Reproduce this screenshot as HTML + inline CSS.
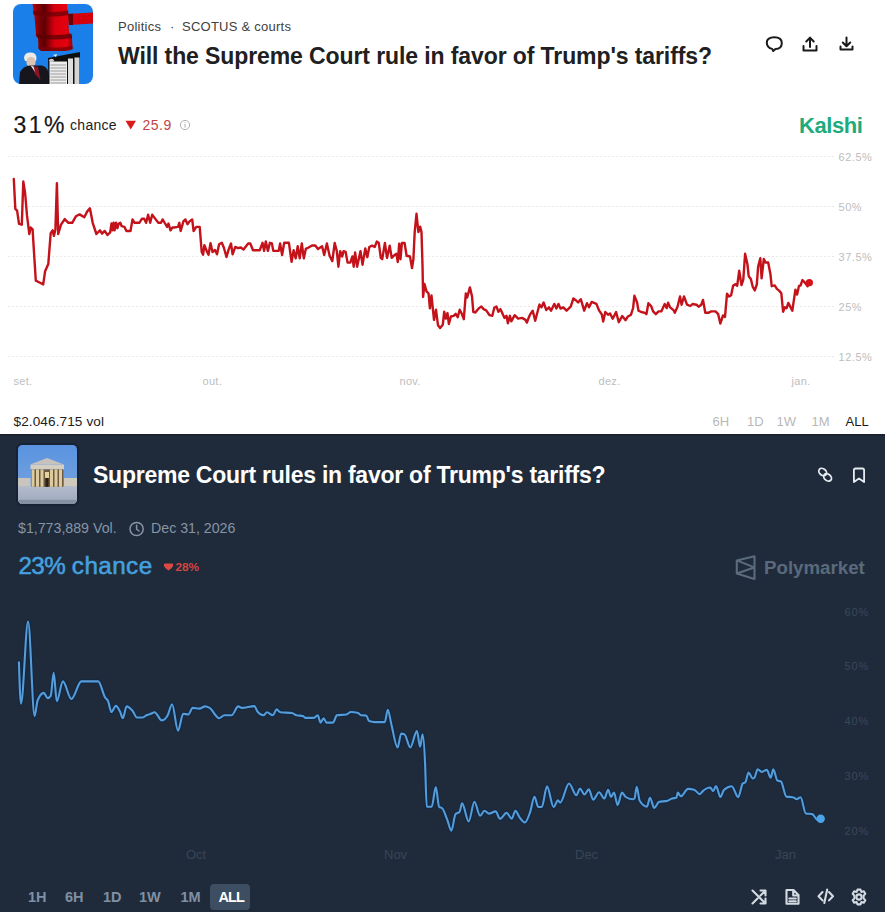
<!DOCTYPE html>
<html><head><meta charset="utf-8">
<style>
*{margin:0;padding:0;box-sizing:border-box}
html,body{width:885px;height:912px;overflow:hidden;background:#fff;font-family:"Liberation Sans",sans-serif}
.a{position:absolute;white-space:nowrap;line-height:1}
#top{position:absolute;left:0;top:0;width:885px;height:434px;background:#fff;overflow:hidden}
#bot{position:absolute;left:0;top:434px;width:885px;height:478px;background:#1f2b3b;overflow:hidden}
.gl{position:absolute;left:8px;width:828px;height:1px;background:repeating-linear-gradient(90deg,#e9e9e9 0 2px,transparent 2px 4px)}
.yl{position:absolute;left:838.5px;font-size:11px;color:#bdbdbd;letter-spacing:0.55px;line-height:1}
.xl{position:absolute;font-size:11px;color:#bdbdbd;line-height:1;letter-spacing:0.3px}
.rb{position:absolute;font-size:13px;color:#b8b8b8;line-height:1}
.pyl{position:absolute;left:844.5px;font-size:11px;color:#3a4758;line-height:1;letter-spacing:0.9px}
.pxl{position:absolute;font-size:13px;color:#384556;line-height:1}
.pb{position:absolute;font-size:14.5px;font-weight:bold;color:#8090a4;line-height:1}
</style></head><body>
<div id="top">
  <!-- thumbnail 1 -->
  <svg class="a" style="left:13px;top:4px" width="80" height="80" viewBox="0 0 80 80">
    <defs><clipPath id="c1"><rect width="80" height="80" rx="8"/></clipPath>
    <linearGradient id="gv" x1="0" x2="1"><stop offset="0" stop-color="#d0000c"/><stop offset="0.12" stop-color="#8a0006"/><stop offset="0.3" stop-color="#5c0004"/><stop offset="0.55" stop-color="#d8000e"/><stop offset="0.85" stop-color="#e4000e"/><stop offset="1" stop-color="#a0000a"/></linearGradient></defs>
    <g clip-path="url(#c1)">
      <rect width="80" height="80" fill="#1a7fe8"/>
      <path d="M54,10 L80,8.5 L80,19.5 L56,21 Z" fill="#d4000c"/>
      <path d="M55,10 L60,9.8 L60,21 L56,21 Z" fill="#6a0005"/>
      <path d="M19.5,0 H54 L54.5,6 Q56,8 55,11 L56,29 Q60,31 59,34 L59.6,45 Q55,47.5 44,47 H30 Q26,46.5 25.5,44 L25,34 Q22,32 23,29.5 L21.4,11.5 Q19,9 20.5,6 Z" fill="url(#gv)"/>
      <path d="M20.5,6.5 Q38,9.5 55,6.5 L55.5,11 Q38,14 21,11 Z" fill="#6a0005" opacity="0.75"/>
      <path d="M23,29.5 Q40,33 58.5,29.5 L59,34 Q40,37 25,34 Z" fill="#5a0004" opacity="0.75"/>
      <path d="M25.5,42 Q42,45 59.5,42 L59.6,45 Q55,47.5 44,47 H30 Q26,46.5 25.5,44 Z" fill="#7a0006" opacity="0.8"/>
      <!-- person -->
      <path d="M11,54 Q11,48.4 17.5,48.4 Q23.5,48.4 23.5,54 L23,57 L12,57 Z" fill="#ecebe8"/>
      <ellipse cx="18" cy="58" rx="4.6" ry="5.2" fill="#dcc4b4"/>
      <path d="M6,80 L7,68 Q11,61.5 17,61.5 L29,61.5 Q35.5,63 36,72 L36,80 Z" fill="#17161c"/>
      <path d="M19.5,62.5 L25,62.5 L27.5,76 L22,70 Z" fill="#8c1426"/>
      <path d="M17.5,61.5 L20.5,62.5 L22,68 Z" fill="#e8e8e8"/>
      <!-- document -->
      <path d="M35,54 L67,48 L67,80 L35.5,80 Z" fill="#0f0f10"/>
      <rect x="36.5" y="57.5" width="17.5" height="22.5" fill="#ececec"/>
      <rect x="55" y="54.5" width="5" height="25.5" fill="#dedede"/>
      <rect x="61.5" y="53.5" width="5" height="26.5" fill="#d4d4d4"/>
      <g stroke="#8a8a8a" stroke-width="0.8"><line x1="37.5" y1="61" x2="53" y2="61"/><line x1="37.5" y1="64" x2="53" y2="64"/><line x1="37.5" y1="67" x2="53" y2="67"/><line x1="37.5" y1="70" x2="53" y2="70"/><line x1="37.5" y1="73" x2="53" y2="73"/><line x1="37.5" y1="76" x2="53" y2="76"/><line x1="37.5" y1="79" x2="53" y2="79"/></g>
      <ellipse cx="38.5" cy="56.5" rx="2.5" ry="1.8" fill="#c8c8c8"/>
      <path d="M40,51 L44,50 L43,53 Z" fill="#d8e8f4"/>
    </g>
  </svg>
  <div class="a" style="left:118px;top:20px;font-size:13px;color:#404040;letter-spacing:0.25px">Politics</div>
  <div class="a" style="left:170px;top:20px;font-size:13px;color:#404040">·</div>
  <div class="a" style="left:182px;top:20px;font-size:13px;color:#404040;letter-spacing:0.25px">SCOTUS &amp; courts</div>
  <div class="a" style="left:118px;top:45.3px;font-size:23px;font-weight:bold;color:#202020;letter-spacing:-0.1px">Will the Supreme Court rule in favor of Trump's tariffs?</div>
  <!-- header icons -->
  <svg class="a" style="left:760px;top:30px" width="100" height="28" viewBox="760 30 100 28" fill="none" stroke="#1a1a1a" stroke-width="2" stroke-linecap="round" stroke-linejoin="round">
    <path d="M772.2,48.9 Q766.8,47.6 766.8,42.7 Q766.8,37.2 774.3,37.2 Q781.8,37.2 781.8,42.9 Q781.8,48.7 775.5,49 L773.2,51 Z"/>
    <path d="M810,47 V38 M806.3,41.5 L810,37.6 L813.7,41.5 M803.5,46 V50.5 H816.5 V46"/>
    <path d="M846.5,37.5 V46 M842.8,42.5 L846.5,46.3 L850.2,42.5 M840.5,46.5 V49.6 H852.5 V46.5"/>
  </svg>
  <div class="a" style="left:13.5px;top:113.6px;font-size:23px;color:#161616;letter-spacing:2.4px;-webkit-text-stroke:0.2px #161616">31%</div>
  <div class="a" style="left:70px;top:118px;font-size:14px;color:#1c1c1c;letter-spacing:0.3px">chance</div>
  <svg class="a" style="left:125px;top:120px" width="12" height="10"><polygon points="0.5,0.8 11,0.8 5.75,9.5" fill="#d81c1c"/></svg>
  <div class="a" style="left:142.5px;top:118.3px;font-size:14px;color:#bf4545;letter-spacing:0.5px">25.9</div>
  <svg class="a" style="left:179px;top:119px" width="12" height="12" viewBox="0 0 12 12"><circle cx="6" cy="6" r="4.6" fill="none" stroke="#a8a8a8" stroke-width="0.9"/><rect x="5.55" y="5" width="0.9" height="3.6" fill="#a8a8a8"/><rect x="5.55" y="3.2" width="0.9" height="0.9" fill="#a8a8a8"/></svg>
  <div class="a" style="left:799px;top:114.5px;font-size:22px;font-weight:bold;color:#1eab7d;letter-spacing:-0.45px">Kalshi</div>
  <!-- grid -->
  <div class="gl" style="top:156px"></div>
  <div class="gl" style="top:206px"></div>
  <div class="gl" style="top:256px"></div>
  <div class="gl" style="top:306px"></div>
  <div class="gl" style="top:356px"></div>
  <div class="yl" style="top:152px">62.5%</div>
  <div class="yl" style="top:202px">50%</div>
  <div class="yl" style="top:252px">37.5%</div>
  <div class="yl" style="top:302px">25%</div>
  <div class="yl" style="top:352px">12.5%</div>
  <div class="xl" style="left:13.5px;top:376px">set.</div>
  <div class="xl" style="left:202.5px;top:376px">out.</div>
  <div class="xl" style="left:399.5px;top:376px">nov.</div>
  <div class="xl" style="left:598.5px;top:376px">dez.</div>
  <div class="xl" style="left:791.5px;top:376px">jan.</div>
  <svg class="a" style="left:0;top:0" width="885" height="434" viewBox="0 0 885 434">
    <path d="M13.8,179.0 L15.3,208.8 L17.1,210.7 L19.0,223.8 L21.8,224.7 L23.3,181.4 L25.1,193.0 L27.0,215.4 L29.3,234.0 L30.7,227.5 L32.6,229.4 L33.9,250.8 L35.8,280.7 L39.5,282.5 L43.2,284.4 L45.1,271.3 L48.3,263.9 L50.7,233.1 L52.6,230.3 L53.9,235.9 L55.4,229.4 L56.9,183.3 L58.2,234.0 L61.0,224.7 L64.7,219.1 L68.4,222.8 L72.2,222.8 L75.9,216.3 L79.6,214.4 L84.3,217.2 L87.1,211.6 L89.9,208.3 L92.7,222.8 L96.4,234.0 L100.0,230.3 L102.0,233.6 L104.7,230.9 L107.5,235.0 L110.2,232.3 L111.5,223.5 L112.5,230.3 L113.6,222.8 L114.6,230.3 L116.0,222.8 L117.4,228.2 L118.7,223.5 L120.3,222.8 L121.7,226.2 L124.4,226.9 L126.4,231.0 L130.5,231.0 L132.5,219.4 L134.6,222.8 L139.3,222.8 L142.0,218.7 L144.1,218.7 L146.1,222.8 L148.1,214.7 L150.2,222.8 L152.2,214.7 L154.2,217.4 L158.3,222.8 L161.0,222.8 L162.6,219.4 L165.1,223.5 L167.1,226.9 L168.5,223.5 L170.5,230.3 L172.5,227.5 L173.9,227.5 L178.0,226.9 L179.3,222.8 L180.7,231.0 L183.4,221.4 L185.4,219.4 L187.5,224.2 L189.5,221.4 L192.2,219.4 L193.6,231.0 L196.3,226.9 L199.7,226.9 L201.7,252.0 L203.1,254.7 L204.4,245.2 L207.1,252.0 L208.5,254.7 L210.5,243.1 L212.5,252.0 L215.0,250.0 L217.0,254.3 L219.1,244.2 L221.8,242.8 L223.8,247.5 L226.5,257.0 L228.6,249.6 L231.0,243.5 L232.6,254.3 L235.3,246.9 L238.0,248.2 L240.8,247.5 L243.5,249.6 L248.2,243.5 L250.3,243.5 L253.0,250.3 L259.7,250.3 L262.5,242.8 L264.1,250.9 L265.8,241.4 L267.9,250.9 L269.9,242.8 L271.9,243.5 L273.3,250.9 L278.7,250.9 L280.1,243.5 L282.1,255.0 L284.2,242.8 L288.9,242.8 L291.6,261.8 L293.6,250.3 L295.7,258.4 L297.7,246.2 L299.7,258.4 L301.8,243.5 L303.8,258.4 L305.8,248.9 L308.6,247.5 L312.0,245.5 L315.3,245.5 L318.0,248.9 L322.1,246.2 L324.2,255.0 L326.9,243.5 L329.6,255.7 L332.3,261.1 L334.7,243.0 L336.8,251.1 L338.4,266.7 L340.2,251.1 L342.2,256.5 L343.6,251.1 L345.6,251.8 L347.6,262.6 L350.3,262.6 L352.4,256.5 L353.7,266.7 L355.1,252.5 L357.1,266.7 L360.5,251.1 L362.5,264.7 L365.3,248.4 L367.3,257.2 L369.3,247.0 L372.0,245.7 L374.7,247.0 L376.8,241.6 L378.8,243.0 L380.8,257.9 L382.2,259.2 L384.9,243.0 L387.0,257.9 L389.7,245.7 L391.7,257.9 L394.4,255.2 L396.4,253.8 L397.8,262.0 L399.2,243.6 L400.5,259.2 L401.9,243.0 L404.6,243.0 L406.6,255.8 L410.0,256.5 L412.0,268.0 L413.4,259.2 L414.7,232.1 L416.5,213.8 L418.4,232.1 L420.2,226.7 L421.5,232.1 L422.5,265.0 L423.1,296.9 L424.5,284.0 L426.5,291.4 L428.6,293.5 L429.9,308.4 L431.5,295.5 L434.0,319.9 L436.0,309.7 L438.0,325.3 L440.1,328.0 L442.8,324.7 L444.2,311.8 L445.9,318.6 L447.5,313.1 L448.9,324.0 L450.9,316.5 L453.6,315.8 L455.7,313.8 L457.7,317.2 L459.7,309.7 L461.8,313.8 L463.8,319.2 L465.8,293.5 L467.2,297.5 L469.9,287.4 L472.0,296.2 L473.3,311.8 L475.3,312.5 L478.7,308.4 L481.4,306.4 L483.5,309.1 L486.2,310.4 L489.6,315.2 L492.3,315.8 L494.3,307.7 L496.4,306.4 L498.4,311.8 L500.4,309.1 L504.5,317.9 L506.5,315.8 L507.9,323.3 L509.9,315.8 L511.3,321.3 L514.7,315.2 L518.1,318.6 L522.1,317.9 L525.5,319.9 L526.9,322.6 L528.9,317.2 L530.0,314.7 L532.7,310.7 L535.2,320.8 L537.5,312.0 L539.5,304.6 L541.5,307.3 L543.6,302.5 L546.3,310.0 L549.0,307.3 L551.0,310.7 L554.4,303.9 L556.4,308.6 L558.5,303.9 L560.5,308.6 L563.2,307.3 L566.6,310.7 L570.7,306.6 L573.4,298.5 L576.1,300.5 L578.1,302.5 L580.8,299.2 L584.2,310.7 L587.0,303.2 L589.0,307.3 L591.7,301.9 L596.4,303.9 L599.2,310.7 L601.9,314.7 L603.2,321.5 L605.3,312.0 L608.0,314.7 L610.0,313.4 L612.7,318.8 L616.1,312.0 L618.8,322.2 L622.2,316.1 L625.6,320.2 L627.6,316.8 L631.0,314.7 L633.1,308.0 L634.4,295.8 L637.1,302.5 L638.5,310.7 L641.2,312.0 L645.0,312.8 L646.4,314.2 L648.4,303.3 L651.1,306.0 L653.1,311.4 L655.8,314.2 L658.6,311.4 L661.3,311.4 L664.7,304.0 L666.7,308.1 L668.1,302.6 L670.1,307.4 L673.5,310.1 L674.8,312.8 L677.5,306.7 L680.0,296.5 L681.6,304.7 L684.0,296.5 L687.0,304.7 L690.4,306.0 L692.5,304.0 L696.5,304.7 L698.6,306.7 L701.3,304.7 L703.0,299.9 L705.3,312.8 L708.1,312.8 L711.4,311.4 L715.5,311.4 L718.2,314.2 L720.3,323.6 L723.0,315.5 L725.0,316.9 L727.0,293.8 L729.1,296.5 L731.1,295.2 L733.1,285.7 L735.2,284.3 L737.2,285.7 L739.2,270.8 L741.5,285.0 L743.3,279.6 L745.1,253.8 L747.4,264.0 L748.7,276.2 L750.8,278.9 L752.8,287.0 L754.8,290.4 L756.8,284.5 L758.1,266.9 L760.3,258.2 L761.6,278.3 L763.8,259.0 L765.5,262.5 L768.2,262.5 L770.4,273.9 L771.7,286.2 L774.7,285.4 L776.9,288.9 L779.1,290.6 L781.3,293.2 L783.1,311.7 L784.8,307.3 L786.6,308.2 L788.3,302.9 L790.1,306.4 L792.3,310.8 L795.4,289.7 L797.1,294.6 L798.9,286.2 L800.6,285.4 L802.4,280.1 L805.0,282.7 L807.6,286.2 L809.4,282.7" fill="none" stroke="#c4121b" stroke-width="2.4" stroke-linejoin="round" stroke-linecap="round"/>
    <circle cx="809.4" cy="282.7" r="3.6" fill="#d8121a"/>
  </svg>
  <div class="a" style="left:13.5px;top:415px;font-size:13.6px;color:#1c1c1c;letter-spacing:0.1px">$2.046.715 vol</div>
  <div class="rb" style="left:712.5px;top:415px">6H</div>
  <div class="rb" style="left:747px;top:415px">1D</div>
  <div class="rb" style="left:776.5px;top:415px">1W</div>
  <div class="rb" style="left:811.5px;top:415px">1M</div>
  <div class="rb" style="left:845.5px;top:415px;color:#1a1a1a">ALL</div>
</div>
<div id="bot">
  <div class="a" style="left:0;top:0;width:885px;height:2px;background:#19222e"></div>
  <!-- thumbnail 2 -->
  <div class="a" style="left:16px;top:9px;width:63px;height:63px;border-radius:6px;background:#172235"></div>
  <svg class="a" style="left:18px;top:11px" width="59" height="59" viewBox="0 0 59 59">
    <defs><clipPath id="c2"><rect width="59" height="59" rx="4.5"/></clipPath>
    <linearGradient id="sky" x1="0" y1="0" x2="0" y2="1"><stop offset="0" stop-color="#5a93e0"/><stop offset="1" stop-color="#7ba6dc"/></linearGradient>
    <linearGradient id="stp" x1="0" y1="0" x2="0" y2="1"><stop offset="0" stop-color="#b4bccb"/><stop offset="0.7" stop-color="#a3aec2"/><stop offset="1" stop-color="#7f8aa0"/></linearGradient></defs>
    <g clip-path="url(#c2)">
      <rect width="59" height="59" fill="url(#sky)"/>
      <rect x="0" y="33" width="12.5" height="11" fill="#c9c4bd"/>
      <rect x="46" y="33" width="13" height="11" fill="#cfc9bc"/>
      <rect x="0" y="41" width="59" height="18" fill="url(#stp)"/>
      <path d="M12.3,19.6 L29,12.9 L45.9,19.6 Z" fill="#c6c2c0"/>
      <rect x="12.5" y="19.6" width="33.5" height="4.8" fill="#d3cdc2"/>
      <rect x="13" y="24.4" width="32.4" height="17.4" fill="#6e5a3e"/>
      <g fill="#dccaa0"><rect x="13.5" y="24.4" width="3" height="17.4"/><rect x="18" y="24.4" width="3" height="17.4"/><rect x="22.5" y="24.4" width="3" height="17.4"/><rect x="32" y="24.4" width="3" height="17.4"/><rect x="36.5" y="24.4" width="3" height="17.4"/><rect x="41" y="24.4" width="3" height="17.4"/></g>
      <rect x="27" y="27" width="4" height="6" fill="#e8d49a"/>
      <rect x="27.5" y="33" width="3" height="8.8" fill="#2a2018"/>
      <rect x="0" y="55" width="59" height="4" fill="#8690a3"/>
    </g>
  </svg>
  <div class="a" style="left:93px;top:30px;font-size:23px;font-weight:bold;color:#fff;letter-spacing:-0.25px">Supreme Court rules in favor of Trump's tariffs?</div>
  <svg class="a" style="left:810px;top:28px" width="65" height="28" viewBox="810 462 65 28" fill="none" stroke="#e6ebf0" stroke-width="1.8" stroke-linecap="round" stroke-linejoin="round">
    <ellipse cx="822.7" cy="472" rx="4.3" ry="3.2" transform="rotate(40 822.7 472)"/>
    <ellipse cx="827.6" cy="477.4" rx="4.3" ry="3.2" transform="rotate(40 827.6 477.4)"/>
    <path d="M853.9,470.2 Q853.9,468.5 855.6,468.5 H862.4 Q864.1,468.5 864.1,470.2 V482 L859,478.4 L853.9,482 Z"/>
  </svg>
  <div class="a" style="left:18px;top:87.3px;font-size:14.2px;color:#8794a4">$1,773,889 Vol.</div>
  <svg class="a" style="left:128px;top:87px" width="18" height="18" viewBox="0 0 18 18" fill="none" stroke="#8794a4" stroke-width="1.5" stroke-linecap="round"><circle cx="8.6" cy="8" r="6.6"/><path d="M8.6,4.3 V8.2 L11,10"/></svg>
  <div class="a" style="left:151px;top:87.3px;font-size:14.2px;color:#8794a4">Dec 31, 2026</div>
  <div class="a" style="left:18.5px;top:120px;font-size:24.2px;color:#45a0df;-webkit-text-stroke:0.55px #45a0df"><span style="letter-spacing:-0.6px">23%</span> <span style="letter-spacing:0.45px">chance</span></div>
  <svg class="a" style="left:162.5px;top:129px" width="11" height="9"><path d="M0.8,2 Q0.8,0.6 2.2,0.6 H8.8 Q10.2,0.6 10.2,2 Q10,4.5 5.5,7.6 Q1,4.5 0.8,2 Z" fill="#dc4844"/></svg>
  <div class="a" style="left:175.5px;top:127.5px;font-size:11.8px;font-weight:bold;color:#d44440">28%</div>
  <!-- polymarket logo -->
  <svg class="a" style="left:735px;top:121px" width="22" height="26" viewBox="0 0 22 26" fill="none" stroke="#5b6b7d" stroke-width="2.1" stroke-linejoin="round"><path d="M1.8,5.4 L19.5,1.3 V24 L1.8,18.6 Z M1.8,5.4 L19.2,12.4 L1.8,18.6"/></svg>
  <div class="a" style="left:764px;top:125px;font-size:18.7px;font-weight:bold;color:#5a6a7c">Polymarket</div>
  <!-- grid labels -->
  <div class="pyl" style="top:173px">60%</div>
  <div class="pyl" style="top:227px">50%</div>
  <div class="pyl" style="top:282px">40%</div>
  <div class="pyl" style="top:337px">30%</div>
  <div class="pyl" style="top:392px">20%</div>
  <div class="pxl" style="left:186px;top:413.5px">Oct</div>
  <div class="pxl" style="left:384px;top:413.5px">Nov</div>
  <div class="pxl" style="left:575px;top:413.5px">Dec</div>
  <div class="pxl" style="left:775px;top:413.5px">Jan</div>
  <svg class="a" style="left:0;top:0" width="885" height="478" viewBox="0 434 885 478">
    <path d="M18.9,662.2 C19.6,682.9 20.3,703.6 21.0,703.6 C23.4,703.6 25.7,621.5 28.1,621.5 C30.3,621.5 32.4,715.9 34.6,715.9 C35.6,715.9 36.6,703.0 37.6,700.5 C39.7,695.4 41.7,692.9 43.8,692.9 C45.1,692.9 46.3,698.2 47.6,698.2 C48.6,698.2 49.7,697.4 50.7,695.9 C51.7,694.4 52.7,672.9 53.7,672.9 C54.7,672.9 55.8,701.3 56.8,701.3 C58.8,701.3 60.9,681.4 62.9,681.4 C65.7,681.4 68.6,699.0 71.4,699.0 C74.7,699.0 78.1,681.4 81.4,681.4 C87.0,681.4 92.6,681.4 98.2,681.4 C100.5,681.4 102.8,693.9 105.1,697.5 C106.1,699.1 107.2,698.9 108.2,701.3 C109.2,703.7 110.3,712.0 111.3,712.0 C112.8,712.0 114.4,705.9 115.9,705.9 C117.3,705.9 118.6,709.0 120.0,711.6 C121.0,713.4 121.9,718.2 122.9,718.2 C124.1,718.2 125.4,706.4 126.6,706.4 C128.6,706.4 130.5,708.5 132.5,710.8 C134.0,712.5 135.4,717.5 136.9,717.5 C138.9,717.5 140.8,717.5 142.8,717.5 C144.0,717.5 145.2,715.9 146.4,715.3 C147.9,714.6 149.3,714.4 150.8,713.8 C152.0,713.3 153.3,712.3 154.5,712.3 C157.0,712.3 159.4,720.4 161.9,720.4 C163.8,720.4 165.8,718.7 167.7,715.3 C169.2,712.7 170.6,704.2 172.1,704.2 C174.1,704.2 176.0,730.7 178.0,730.7 C179.7,730.7 181.5,713.8 183.2,713.8 C184.9,713.8 186.6,714.5 188.3,714.5 C189.8,714.5 191.2,707.9 192.7,707.9 C194.9,707.9 197.1,708.6 199.3,708.6 C201.3,708.6 203.2,706.4 205.2,706.4 C206.7,706.4 208.1,707.1 209.6,707.9 C212.8,709.7 215.9,718.2 219.1,718.2 C220.8,718.2 222.6,715.3 224.3,715.3 C226.7,715.3 229.2,715.3 231.6,715.3 C233.8,715.3 236.0,706.4 238.2,706.4 C239.4,706.4 240.7,707.9 241.9,707.9 C246.1,707.9 250.3,706.1 254.5,706.1 C255.5,706.1 256.5,710.3 257.5,711.6 C259.5,714.1 261.4,715.3 263.4,715.3 C264.6,715.3 265.8,712.3 267.0,712.3 C269.0,712.3 270.9,715.3 272.9,715.3 C274.1,715.3 275.4,709.4 276.6,709.4 C277.8,709.4 279.1,712.2 280.3,712.3 C284.2,712.8 288.1,712.5 292.0,713.0 C293.5,713.2 294.9,715.0 296.4,715.3 C298.6,715.8 300.8,715.5 303.0,716.0 C303.7,716.2 304.5,717.9 305.2,717.9 C308.1,717.9 311.1,717.9 314.0,717.9 C315.2,717.9 316.5,715.3 317.7,715.3 C318.7,715.3 319.6,722.6 320.6,722.6 C321.6,722.6 322.6,718.2 323.6,718.2 C324.6,718.2 325.5,722.6 326.5,722.6 C328.7,722.6 330.9,722.6 333.1,722.6 C334.3,722.6 335.6,715.5 336.8,715.3 C340.0,714.8 343.2,715.0 346.4,714.5 C347.9,714.3 349.3,712.0 350.8,712.0 C353.2,712.0 355.7,712.3 358.1,713.0 C359.1,713.3 360.0,715.2 361.0,715.3 C362.7,715.4 364.5,715.4 366.2,715.5 C367.2,715.6 368.1,720.8 369.1,721.1 C371.0,721.8 373.0,722.1 374.9,722.1 C378.2,722.1 381.5,722.1 384.8,722.1 C385.8,722.1 386.8,709.7 387.8,709.7 C389.0,709.7 390.2,719.7 391.4,724.5 C393.5,732.7 395.5,747.5 397.6,747.5 C398.8,747.5 400.0,733.6 401.2,733.6 C402.3,733.6 403.4,733.9 404.5,734.4 C406.4,735.3 408.4,747.5 410.3,747.5 C412.5,747.5 414.7,731.1 416.9,731.1 C418.0,731.1 419.0,746.7 420.1,746.7 C420.9,746.7 421.8,734.4 422.6,734.4 C423.4,734.4 424.3,746.6 425.1,764.0 C425.6,775.1 426.2,806.7 426.7,806.7 C428.4,806.7 430.0,806.7 431.7,806.7 C433.1,806.7 434.4,787.0 435.8,787.0 C436.9,787.0 438.0,805.5 439.1,806.7 C440.2,807.8 441.2,807.3 442.3,808.4 C444.0,810.2 445.6,815.8 447.3,819.9 C448.7,823.3 450.0,830.6 451.4,830.6 C452.8,830.6 454.1,815.7 455.5,814.1 C456.9,812.5 458.2,813.3 459.6,811.7 C460.4,810.7 461.3,803.4 462.1,803.4 C464.3,803.4 466.5,821.5 468.7,821.5 C470.6,821.5 472.5,801.8 474.4,801.8 C476.3,801.8 478.2,815.8 480.1,815.8 C481.6,815.8 483.0,810.7 484.5,810.7 C486.0,810.7 487.5,813.6 489.0,813.6 C491.2,813.6 493.4,811.4 495.6,811.4 C497.1,811.4 498.5,818.8 500.0,818.8 C502.2,818.8 504.4,812.9 506.6,812.9 C508.3,812.9 510.0,818.8 511.7,818.8 C512.9,818.8 514.2,810.7 515.4,810.7 C516.6,810.7 517.9,814.9 519.1,816.6 C521.1,819.3 523.0,822.4 525.0,822.4 C526.7,822.4 528.4,816.9 530.1,812.1 C531.6,808.0 533.0,796.7 534.5,796.7 C535.7,796.7 537.0,807.0 538.2,807.0 C539.4,807.0 540.6,807.0 541.8,807.0 C543.5,807.0 545.3,786.4 547.0,786.4 C549.2,786.4 551.4,807.0 553.6,807.0 C555.1,807.0 556.5,800.4 558.0,800.4 C558.7,800.4 559.5,802.6 560.2,802.6 C563.1,802.6 566.1,783.5 569.0,783.5 C571.5,783.5 573.9,795.3 576.4,795.3 C577.6,795.3 578.8,788.6 580.0,788.6 C581.5,788.6 582.9,794.5 584.4,794.5 C585.9,794.5 587.3,789.4 588.8,789.4 C590.3,789.4 591.7,799.7 593.2,799.7 C595.2,799.7 597.1,792.3 599.1,792.3 C600.9,792.3 602.6,798.5 604.4,798.5 C605.6,798.5 606.9,789.7 608.1,789.7 C609.1,789.7 610.0,797.0 611.0,797.0 C612.0,797.0 613.0,792.6 614.0,792.6 C615.2,792.6 616.4,805.1 617.6,805.1 C619.1,805.1 620.5,792.6 622.0,792.6 C623.2,792.6 624.5,796.2 625.7,797.0 C627.9,798.5 630.1,799.2 632.3,799.2 C633.0,799.2 633.8,799.0 634.5,798.5 C635.2,798.0 636.0,786.7 636.7,786.7 C637.7,786.7 638.7,799.1 639.7,800.7 C642.1,804.6 644.6,806.6 647.0,806.6 C648.0,806.6 648.9,797.7 649.9,797.7 C651.4,797.7 652.8,808.0 654.3,808.0 C655.8,808.0 657.3,802.6 658.8,802.1 C661.7,801.2 664.7,801.6 667.6,800.7 C669.1,800.2 670.5,799.0 672.0,798.5 C673.5,798.0 674.9,798.2 676.4,797.7 C676.9,797.5 677.3,792.6 677.8,792.6 C678.8,792.6 679.8,796.3 680.8,796.3 C683.2,796.3 685.7,788.9 688.1,788.9 C690.1,788.9 692.0,789.2 694.0,789.7 C696.0,790.2 697.9,794.1 699.9,794.1 C700.9,794.1 701.8,792.0 702.8,791.1 C705.3,788.9 707.7,787.5 710.2,787.5 C711.2,787.5 712.1,791.1 713.1,791.1 C714.1,791.1 715.0,786.0 716.0,786.0 C717.5,786.0 718.9,797.0 720.4,797.0 C721.6,797.0 722.7,791.3 723.9,790.1 C726.5,787.5 729.1,786.2 731.7,786.2 C733.9,786.2 736.0,797.2 738.2,797.2 C739.7,797.2 741.2,785.1 742.7,783.6 C743.6,782.7 744.4,783.2 745.3,782.3 C746.4,781.2 747.5,772.5 748.6,772.5 C749.9,772.5 751.2,778.4 752.5,778.4 C753.1,778.4 753.8,778.2 754.4,777.7 C755.5,776.9 756.6,769.3 757.7,769.3 C759.0,769.3 760.3,771.9 761.6,771.9 C763.3,771.9 765.1,769.9 766.8,769.9 C768.1,769.9 769.4,777.7 770.7,777.7 C771.6,777.7 772.4,769.3 773.3,769.3 C774.6,769.3 775.9,779.4 777.2,780.3 C778.5,781.2 779.8,780.7 781.1,781.6 C782.8,782.8 784.6,796.3 786.3,796.6 C788.5,797.0 790.6,796.8 792.8,797.2 C794.1,797.4 795.4,799.2 796.7,799.2 C798.0,799.2 799.3,797.2 800.6,797.2 C802.3,797.2 804.1,813.2 805.8,813.5 C808.0,813.9 810.1,813.7 812.3,814.1 C814.0,814.4 815.8,820.0 817.5,820.0 C818.6,820.0 819.6,819.4 820.7,818.7" fill="none" stroke="#0c2748" stroke-width="4.2" stroke-opacity="0.75" stroke-linejoin="round" stroke-linecap="round"/>
    <path d="M18.9,662.2 C19.6,682.9 20.3,703.6 21.0,703.6 C23.4,703.6 25.7,621.5 28.1,621.5 C30.3,621.5 32.4,715.9 34.6,715.9 C35.6,715.9 36.6,703.0 37.6,700.5 C39.7,695.4 41.7,692.9 43.8,692.9 C45.1,692.9 46.3,698.2 47.6,698.2 C48.6,698.2 49.7,697.4 50.7,695.9 C51.7,694.4 52.7,672.9 53.7,672.9 C54.7,672.9 55.8,701.3 56.8,701.3 C58.8,701.3 60.9,681.4 62.9,681.4 C65.7,681.4 68.6,699.0 71.4,699.0 C74.7,699.0 78.1,681.4 81.4,681.4 C87.0,681.4 92.6,681.4 98.2,681.4 C100.5,681.4 102.8,693.9 105.1,697.5 C106.1,699.1 107.2,698.9 108.2,701.3 C109.2,703.7 110.3,712.0 111.3,712.0 C112.8,712.0 114.4,705.9 115.9,705.9 C117.3,705.9 118.6,709.0 120.0,711.6 C121.0,713.4 121.9,718.2 122.9,718.2 C124.1,718.2 125.4,706.4 126.6,706.4 C128.6,706.4 130.5,708.5 132.5,710.8 C134.0,712.5 135.4,717.5 136.9,717.5 C138.9,717.5 140.8,717.5 142.8,717.5 C144.0,717.5 145.2,715.9 146.4,715.3 C147.9,714.6 149.3,714.4 150.8,713.8 C152.0,713.3 153.3,712.3 154.5,712.3 C157.0,712.3 159.4,720.4 161.9,720.4 C163.8,720.4 165.8,718.7 167.7,715.3 C169.2,712.7 170.6,704.2 172.1,704.2 C174.1,704.2 176.0,730.7 178.0,730.7 C179.7,730.7 181.5,713.8 183.2,713.8 C184.9,713.8 186.6,714.5 188.3,714.5 C189.8,714.5 191.2,707.9 192.7,707.9 C194.9,707.9 197.1,708.6 199.3,708.6 C201.3,708.6 203.2,706.4 205.2,706.4 C206.7,706.4 208.1,707.1 209.6,707.9 C212.8,709.7 215.9,718.2 219.1,718.2 C220.8,718.2 222.6,715.3 224.3,715.3 C226.7,715.3 229.2,715.3 231.6,715.3 C233.8,715.3 236.0,706.4 238.2,706.4 C239.4,706.4 240.7,707.9 241.9,707.9 C246.1,707.9 250.3,706.1 254.5,706.1 C255.5,706.1 256.5,710.3 257.5,711.6 C259.5,714.1 261.4,715.3 263.4,715.3 C264.6,715.3 265.8,712.3 267.0,712.3 C269.0,712.3 270.9,715.3 272.9,715.3 C274.1,715.3 275.4,709.4 276.6,709.4 C277.8,709.4 279.1,712.2 280.3,712.3 C284.2,712.8 288.1,712.5 292.0,713.0 C293.5,713.2 294.9,715.0 296.4,715.3 C298.6,715.8 300.8,715.5 303.0,716.0 C303.7,716.2 304.5,717.9 305.2,717.9 C308.1,717.9 311.1,717.9 314.0,717.9 C315.2,717.9 316.5,715.3 317.7,715.3 C318.7,715.3 319.6,722.6 320.6,722.6 C321.6,722.6 322.6,718.2 323.6,718.2 C324.6,718.2 325.5,722.6 326.5,722.6 C328.7,722.6 330.9,722.6 333.1,722.6 C334.3,722.6 335.6,715.5 336.8,715.3 C340.0,714.8 343.2,715.0 346.4,714.5 C347.9,714.3 349.3,712.0 350.8,712.0 C353.2,712.0 355.7,712.3 358.1,713.0 C359.1,713.3 360.0,715.2 361.0,715.3 C362.7,715.4 364.5,715.4 366.2,715.5 C367.2,715.6 368.1,720.8 369.1,721.1 C371.0,721.8 373.0,722.1 374.9,722.1 C378.2,722.1 381.5,722.1 384.8,722.1 C385.8,722.1 386.8,709.7 387.8,709.7 C389.0,709.7 390.2,719.7 391.4,724.5 C393.5,732.7 395.5,747.5 397.6,747.5 C398.8,747.5 400.0,733.6 401.2,733.6 C402.3,733.6 403.4,733.9 404.5,734.4 C406.4,735.3 408.4,747.5 410.3,747.5 C412.5,747.5 414.7,731.1 416.9,731.1 C418.0,731.1 419.0,746.7 420.1,746.7 C420.9,746.7 421.8,734.4 422.6,734.4 C423.4,734.4 424.3,746.6 425.1,764.0 C425.6,775.1 426.2,806.7 426.7,806.7 C428.4,806.7 430.0,806.7 431.7,806.7 C433.1,806.7 434.4,787.0 435.8,787.0 C436.9,787.0 438.0,805.5 439.1,806.7 C440.2,807.8 441.2,807.3 442.3,808.4 C444.0,810.2 445.6,815.8 447.3,819.9 C448.7,823.3 450.0,830.6 451.4,830.6 C452.8,830.6 454.1,815.7 455.5,814.1 C456.9,812.5 458.2,813.3 459.6,811.7 C460.4,810.7 461.3,803.4 462.1,803.4 C464.3,803.4 466.5,821.5 468.7,821.5 C470.6,821.5 472.5,801.8 474.4,801.8 C476.3,801.8 478.2,815.8 480.1,815.8 C481.6,815.8 483.0,810.7 484.5,810.7 C486.0,810.7 487.5,813.6 489.0,813.6 C491.2,813.6 493.4,811.4 495.6,811.4 C497.1,811.4 498.5,818.8 500.0,818.8 C502.2,818.8 504.4,812.9 506.6,812.9 C508.3,812.9 510.0,818.8 511.7,818.8 C512.9,818.8 514.2,810.7 515.4,810.7 C516.6,810.7 517.9,814.9 519.1,816.6 C521.1,819.3 523.0,822.4 525.0,822.4 C526.7,822.4 528.4,816.9 530.1,812.1 C531.6,808.0 533.0,796.7 534.5,796.7 C535.7,796.7 537.0,807.0 538.2,807.0 C539.4,807.0 540.6,807.0 541.8,807.0 C543.5,807.0 545.3,786.4 547.0,786.4 C549.2,786.4 551.4,807.0 553.6,807.0 C555.1,807.0 556.5,800.4 558.0,800.4 C558.7,800.4 559.5,802.6 560.2,802.6 C563.1,802.6 566.1,783.5 569.0,783.5 C571.5,783.5 573.9,795.3 576.4,795.3 C577.6,795.3 578.8,788.6 580.0,788.6 C581.5,788.6 582.9,794.5 584.4,794.5 C585.9,794.5 587.3,789.4 588.8,789.4 C590.3,789.4 591.7,799.7 593.2,799.7 C595.2,799.7 597.1,792.3 599.1,792.3 C600.9,792.3 602.6,798.5 604.4,798.5 C605.6,798.5 606.9,789.7 608.1,789.7 C609.1,789.7 610.0,797.0 611.0,797.0 C612.0,797.0 613.0,792.6 614.0,792.6 C615.2,792.6 616.4,805.1 617.6,805.1 C619.1,805.1 620.5,792.6 622.0,792.6 C623.2,792.6 624.5,796.2 625.7,797.0 C627.9,798.5 630.1,799.2 632.3,799.2 C633.0,799.2 633.8,799.0 634.5,798.5 C635.2,798.0 636.0,786.7 636.7,786.7 C637.7,786.7 638.7,799.1 639.7,800.7 C642.1,804.6 644.6,806.6 647.0,806.6 C648.0,806.6 648.9,797.7 649.9,797.7 C651.4,797.7 652.8,808.0 654.3,808.0 C655.8,808.0 657.3,802.6 658.8,802.1 C661.7,801.2 664.7,801.6 667.6,800.7 C669.1,800.2 670.5,799.0 672.0,798.5 C673.5,798.0 674.9,798.2 676.4,797.7 C676.9,797.5 677.3,792.6 677.8,792.6 C678.8,792.6 679.8,796.3 680.8,796.3 C683.2,796.3 685.7,788.9 688.1,788.9 C690.1,788.9 692.0,789.2 694.0,789.7 C696.0,790.2 697.9,794.1 699.9,794.1 C700.9,794.1 701.8,792.0 702.8,791.1 C705.3,788.9 707.7,787.5 710.2,787.5 C711.2,787.5 712.1,791.1 713.1,791.1 C714.1,791.1 715.0,786.0 716.0,786.0 C717.5,786.0 718.9,797.0 720.4,797.0 C721.6,797.0 722.7,791.3 723.9,790.1 C726.5,787.5 729.1,786.2 731.7,786.2 C733.9,786.2 736.0,797.2 738.2,797.2 C739.7,797.2 741.2,785.1 742.7,783.6 C743.6,782.7 744.4,783.2 745.3,782.3 C746.4,781.2 747.5,772.5 748.6,772.5 C749.9,772.5 751.2,778.4 752.5,778.4 C753.1,778.4 753.8,778.2 754.4,777.7 C755.5,776.9 756.6,769.3 757.7,769.3 C759.0,769.3 760.3,771.9 761.6,771.9 C763.3,771.9 765.1,769.9 766.8,769.9 C768.1,769.9 769.4,777.7 770.7,777.7 C771.6,777.7 772.4,769.3 773.3,769.3 C774.6,769.3 775.9,779.4 777.2,780.3 C778.5,781.2 779.8,780.7 781.1,781.6 C782.8,782.8 784.6,796.3 786.3,796.6 C788.5,797.0 790.6,796.8 792.8,797.2 C794.1,797.4 795.4,799.2 796.7,799.2 C798.0,799.2 799.3,797.2 800.6,797.2 C802.3,797.2 804.1,813.2 805.8,813.5 C808.0,813.9 810.1,813.7 812.3,814.1 C814.0,814.4 815.8,820.0 817.5,820.0 C818.6,820.0 819.6,819.4 820.7,818.7" fill="none" stroke="#559cd8" stroke-width="2.1" stroke-linejoin="round" stroke-linecap="round"/>
    <circle cx="820.7" cy="818.7" r="4.2" fill="#4aa5e8"/>
  </svg>
  <div class="pb" style="left:28px;top:455.5px">1H</div>
  <div class="pb" style="left:65px;top:455.5px">6H</div>
  <div class="pb" style="left:103px;top:455.5px">1D</div>
  <div class="pb" style="left:139px;top:455.5px">1W</div>
  <div class="pb" style="left:180.5px;top:455.5px">1M</div>
  <div class="a" style="left:209.5px;top:450px;width:40px;height:25.5px;border-radius:4px;background:#3d4e62"></div>
  <div class="pb" style="left:218.5px;top:455.5px;color:#fff;letter-spacing:-0.9px">ALL</div>
  <!-- bottom icons -->
  <svg class="a" style="left:745px;top:450px" width="130" height="28" viewBox="745 884 130 28" fill="none" stroke="#d3dae2" stroke-width="2.1" stroke-linecap="round" stroke-linejoin="round">
    <path d="M752.5,890.5 L765.5,903.5 M765.5,898.5 V903.5 H760.5 M752.5,903.5 L757.5,898.5 M760.5,895.5 L765.5,890.5 M760.5,890.5 H765.5 V895.5"/>
    <path d="M786.5,890 H793.5 L798.5,895 V903.8 H786.5 Z M793.2,890 V895.5 H798.5 M789.3,898.5 H795.8 M789.3,901.3 H795.8"/>
    <path d="M822.5,892 L818.5,896.2 L822.5,900.4 M829,892 L833,896.2 L829,900.4 M827.2,889.5 L824.3,903"/>
    <circle cx="859" cy="897" r="2.6"/>
    <path d="M857.5,889.6 H860.5 L861.4,892 L863.8,891.2 L865.3,893.8 L863.6,895.6 L863.6,898.4 L865.3,900.2 L863.8,902.8 L861.4,902 L860.5,904.4 H857.5 L856.6,902 L854.2,902.8 L852.7,900.2 L854.4,898.4 L854.4,895.6 L852.7,893.8 L854.2,891.2 L856.6,892 Z"/>
  </svg>
</div>
</body></html>
